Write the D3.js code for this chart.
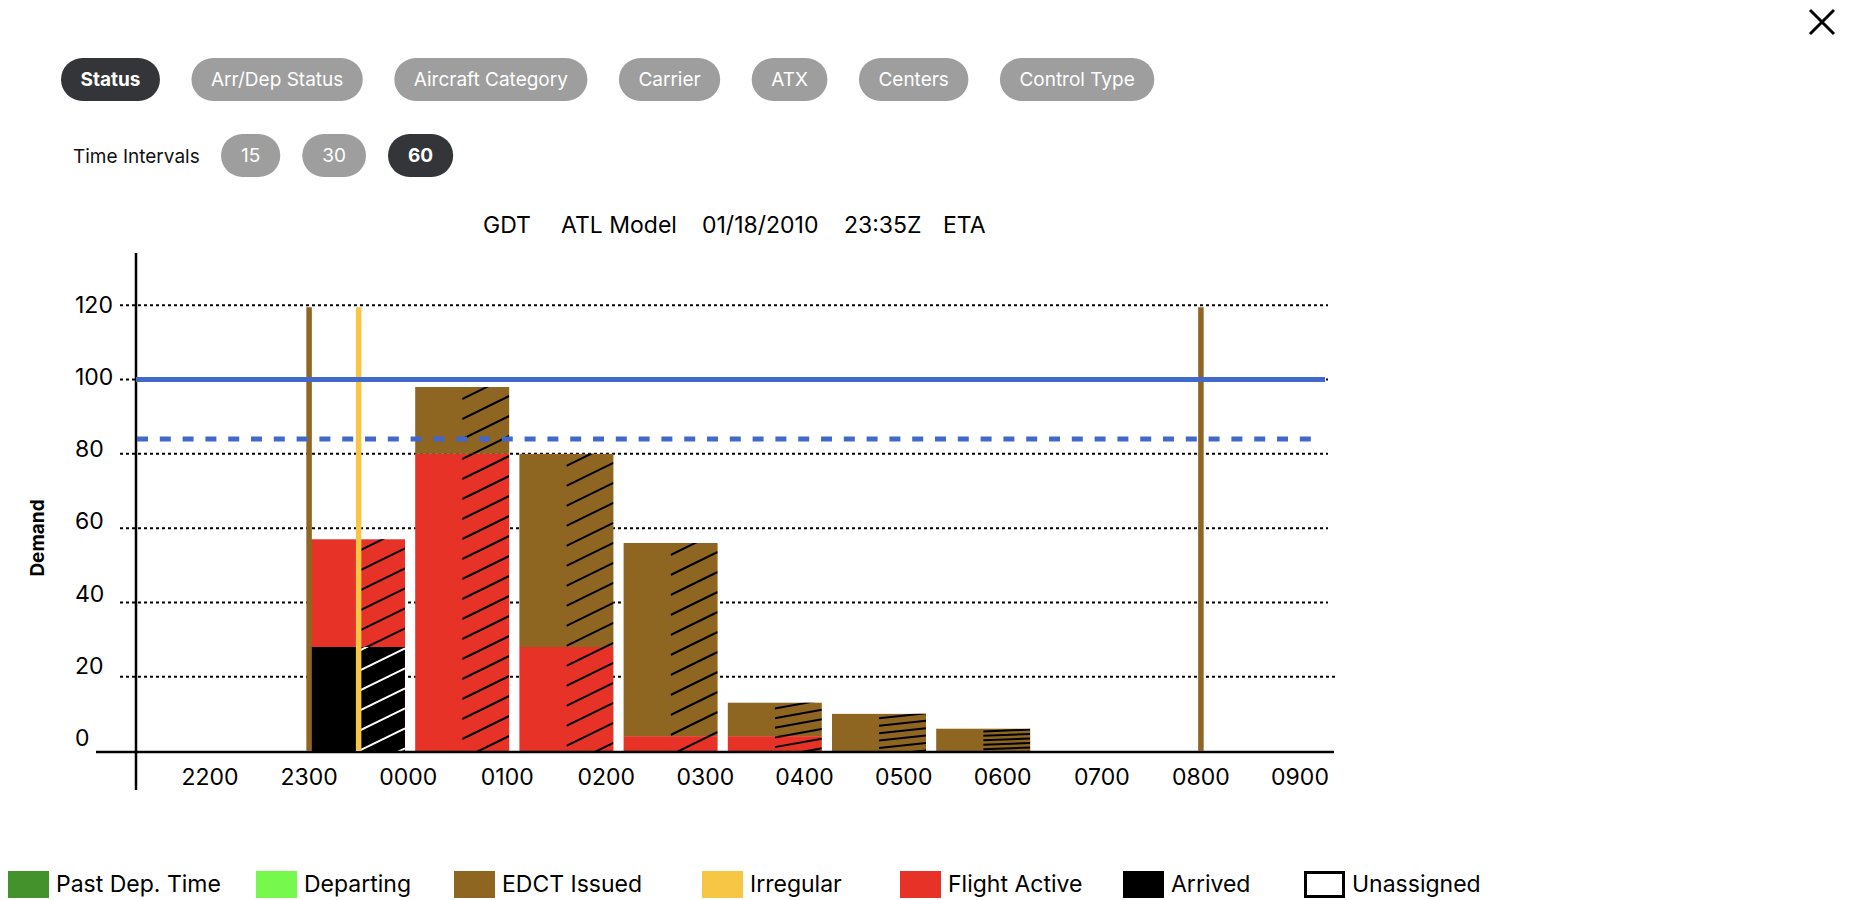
<!DOCTYPE html>
<html>
<head>
<meta charset="utf-8">
<script src="https://cdn.jsdelivr.net/npm/d3@7"></script>
<style>
  html, body { margin: 0; padding: 0; background: #fff; }
  svg { display: block; font-family: Inter, "Noto Sans", sans-serif; }
</style>
</head>
<body>
<svg id="chart" width="1865" height="900"></svg>
<script>
// ---------- data ----------
const tabs = ["Status", "Arr/Dep Status", "Aircraft Category", "Carrier", "ATX", "Centers", "Control Type"];
const activeTab = "Status";
const intervals = ["15", "30", "60"];
const activeInterval = "60";
const titleWords = ["GDT", "ATL Model", "01/18/2010", "23:35Z", "ETA"];

const timeLabels = ["2200", "2300", "0000", "0100", "0200", "0300", "0400", "0500", "0600", "0700", "0800", "0900"];
const yTicks = [0, 20, 40, 60, 80, 100, 120];

const barHours = ["2300", "0000", "0100", "0200", "0300", "0400", "0500"];
const arrived = [28, 0, 0, 0, 0, 0, 0];
const flightActive = [29, 80, 28, 4, 4, 0, 0];
const edctIssued = [0, 18, 52, 52, 9, 10, 6];

const rateSolid = 100;
const rateDashed = 84;
const markerTimes = ["2300", "2330", "0800"];
const markerStatus = ["EDCT Issued", "Irregular", "EDCT Issued"];

const legendNames = ["Past Dep. Time", "Departing", "EDCT Issued", "Irregular", "Flight Active", "Arrived", "Unassigned"];

// ---------- styles / layout ----------
const colors = {
  "Past Dep. Time": "#43922c",
  "Departing": "#77f84c",
  "EDCT Issued": "#8f6522",
  "Irregular": "#f6c644",
  "Flight Active": "#e63227",
  "Arrived": "#000000",
  "Unassigned": "#ffffff"
};
const blue = "#4169cc";
const legendX = [8, 256, 454, 702, 900, 1123, 1304];
const titleX = [483, 561, 702, 844, 943];

const svg = d3.select("#chart");

// ---------- top tabs ----------
function pills(items, active, x0, y, h, pad, gap, fs) {
  let x = x0;
  const g = svg.append("g");
  items.forEach(t => {
    const isA = t === active;
    const tmp = g.append("text").attr("font-size", fs).attr("font-weight", isA ? 700 : 400).text(t);
    const w = tmp.node().getComputedTextLength() + pad * 2;
    tmp.remove();
    g.append("rect").attr("x", x).attr("y", y).attr("width", w).attr("height", h)
      .attr("rx", h / 2).attr("fill", isA ? "#333539" : "#9e9e9e");
    g.append("text").attr("x", x + w / 2).attr("y", y + h / 2)
      .attr("text-anchor", "middle").attr("dominant-baseline", "central")
      .attr("font-size", fs).attr("font-weight", isA ? 700 : 400)
      .attr("fill", "#fff").text(t);
    x += w + gap;
  });
}
pills(tabs, activeTab, 61, 58, 43, 19.5, 31.5, 19);

svg.append("text").attr("x", 73).attr("y", 156).attr("dominant-baseline", "central")
  .attr("font-size", 19).attr("fill", "#111").text("Time Intervals");
pills(intervals, activeInterval, 221, 134, 43, 20, 22, 19);

// close X
svg.append("path").attr("d", "M1810,10 L1834,34 M1834,10 L1810,34")
  .attr("stroke", "#000").attr("stroke-width", 3).attr("fill", "none");

// title
svg.append("g").selectAll("text").data(titleWords).join("text")
  .attr("x", (d, i) => titleX[i]).attr("y", 225).attr("dominant-baseline", "central")
  .attr("font-size", 23).attr("fill", "#000").text(d => d);

// ---------- scales ----------
const y = d3.scaleLinear().domain([0, 120]).range([751, 305.3]);
const yLabel = d3.scaleLinear().domain([0, 120]).range([738, 304.7]);
const xTime = d3.scaleLinear().domain([0, timeLabels.length - 1]).range([210, 1300]);
const timeIndex = t => ((+t.slice(0, 2) - 22 + 24) % 24) + (+t.slice(2)) / 60;
const xBar = d3.scaleBand().domain(barHours).range([311, 1030.2]).paddingInner(10.2 / 104.2).paddingOuter(0);

// ---------- gridlines ----------
svg.append("g").selectAll("line").data(yTicks.filter(d => d > 0)).join("line")
  .attr("x1", 120).attr("x2", d => d === 20 ? 1336 : 1328)
  .attr("y1", d => y(d)).attr("y2", d => y(d))
  .attr("stroke", "#000").attr("stroke-width", 2).attr("stroke-dasharray", "3,3");

svg.append("g").selectAll("text").data(yTicks).join("text")
  .attr("x", 75).attr("y", d => yLabel(d)).attr("dominant-baseline", "central")
  .attr("font-size", 23).attr("fill", "#000").text(d => d);

// ---------- bars ----------
const bars = barHours.map((h, i) => {
  const segs = [];
  let base = 0;
  [["Arrived", arrived[i]], ["Flight Active", flightActive[i]], ["EDCT Issued", edctIssued[i]]].forEach(([k, v]) => {
    if (v > 0) { segs.push({ key: k, y0: base, y1: base + v, hour: h, idx: i }); base += v; }
  });
  return { hour: h, total: base, segs, idx: i };
});
const allSegs = bars.flatMap(b => b.segs);

const barG = svg.append("g");
barG.selectAll("rect").data(allSegs).join("rect")
  .attr("x", d => xBar(d.hour)).attr("width", xBar.bandwidth())
  .attr("y", d => y(d.y1)).attr("height", d => y(d.y0) - y(d.y1))
  .attr("fill", d => colors[d.key]);

// hatching on right half of each bar
const defs = svg.append("defs");
allSegs.forEach((d, j) => {
  defs.append("clipPath").attr("id", "hc" + j).append("rect")
    .attr("x", xBar(d.hour) + xBar.bandwidth() / 2).attr("width", xBar.bandwidth() / 2)
    .attr("y", y(d.y1)).attr("height", y(d.y0) - y(d.y1));
});
allSegs.forEach((d, j) => {
  const b = bars[d.idx];
  const top = y(b.total), bot = y(0);
  const h = bot - top;
  const s = Math.min(h / 5, 20);
  const r = s * Math.min(1.15, h / 55);
  const xl = xBar(d.hour) + xBar.bandwidth() / 2, xr = xBar(d.hour) + xBar.bandwidth();
  const ks = d3.range(0, Math.ceil((h + r) / s) + 1);
  barG.append("g").attr("clip-path", `url(#hc${j})`)
    .selectAll("line").data(ks).join("line")
    .attr("x1", xl).attr("x2", xr)
    .attr("y1", k => top + k * s + s * 0.6).attr("y2", k => top + k * s + s * 0.6 - r)
    .attr("stroke", d.key === "Arrived" ? "#fff" : "#000").attr("stroke-width", 2);
});

// ---------- axes lines ----------
svg.append("line").attr("x1", 96).attr("x2", 1334).attr("y1", y(0) + 1).attr("y2", y(0) + 1)
  .attr("stroke", "#000").attr("stroke-width", 2.5);
svg.append("line").attr("x1", 136).attr("x2", 136).attr("y1", 253).attr("y2", 790)
  .attr("stroke", "#000").attr("stroke-width", 2.5);

svg.append("g").selectAll("text").data(timeLabels).join("text")
  .attr("x", (d, i) => xTime(i)).attr("y", 777).attr("text-anchor", "middle").attr("dominant-baseline", "central")
  .attr("font-size", 23).attr("fill", "#000").text(d => d);

// ---------- vertical markers ----------
svg.append("g").selectAll("line").data(markerTimes).join("line")
  .attr("x1", d => xTime(timeIndex(d))).attr("x2", d => xTime(timeIndex(d)))
  .attr("y1", y(119.5)).attr("y2", y(0))
  .attr("stroke", (d, i) => colors[markerStatus[i]]).attr("stroke-width", 5.5);

// ---------- rate lines ----------
svg.append("line").attr("x1", 136).attr("x2", 1325).attr("y1", y(rateSolid)).attr("y2", y(rateSolid))
  .attr("stroke", blue).attr("stroke-width", 5);
svg.append("line").attr("x1", 137).attr("x2", 1316).attr("y1", y(rateDashed)).attr("y2", y(rateDashed))
  .attr("stroke", blue).attr("stroke-width", 5).attr("stroke-dasharray", "11,11.8");

// y-axis title
svg.append("text").attr("transform", "translate(37,538) rotate(-90)")
  .attr("text-anchor", "middle").attr("dominant-baseline", "central")
  .attr("font-size", 19).attr("font-weight", 700).text("Demand");

// ---------- legend ----------
const lg = svg.append("g").selectAll("g").data(legendNames).join("g")
  .attr("transform", (d, i) => `translate(${legendX[i]},871)`);
lg.append("rect").attr("x", d => d === "Unassigned" ? 1.5 : 0).attr("y", d => d === "Unassigned" ? 1.5 : 0)
  .attr("width", d => d === "Unassigned" ? 38 : 41).attr("height", d => d === "Unassigned" ? 24 : 27)
  .attr("fill", d => colors[d]).attr("stroke", d => d === "Unassigned" ? "#000" : "none").attr("stroke-width", 3);
lg.append("text").attr("x", 48).attr("y", 13).attr("dominant-baseline", "central")
  .attr("font-size", 23).attr("fill", "#000").text(d => d);
</script>
</body>
</html>
